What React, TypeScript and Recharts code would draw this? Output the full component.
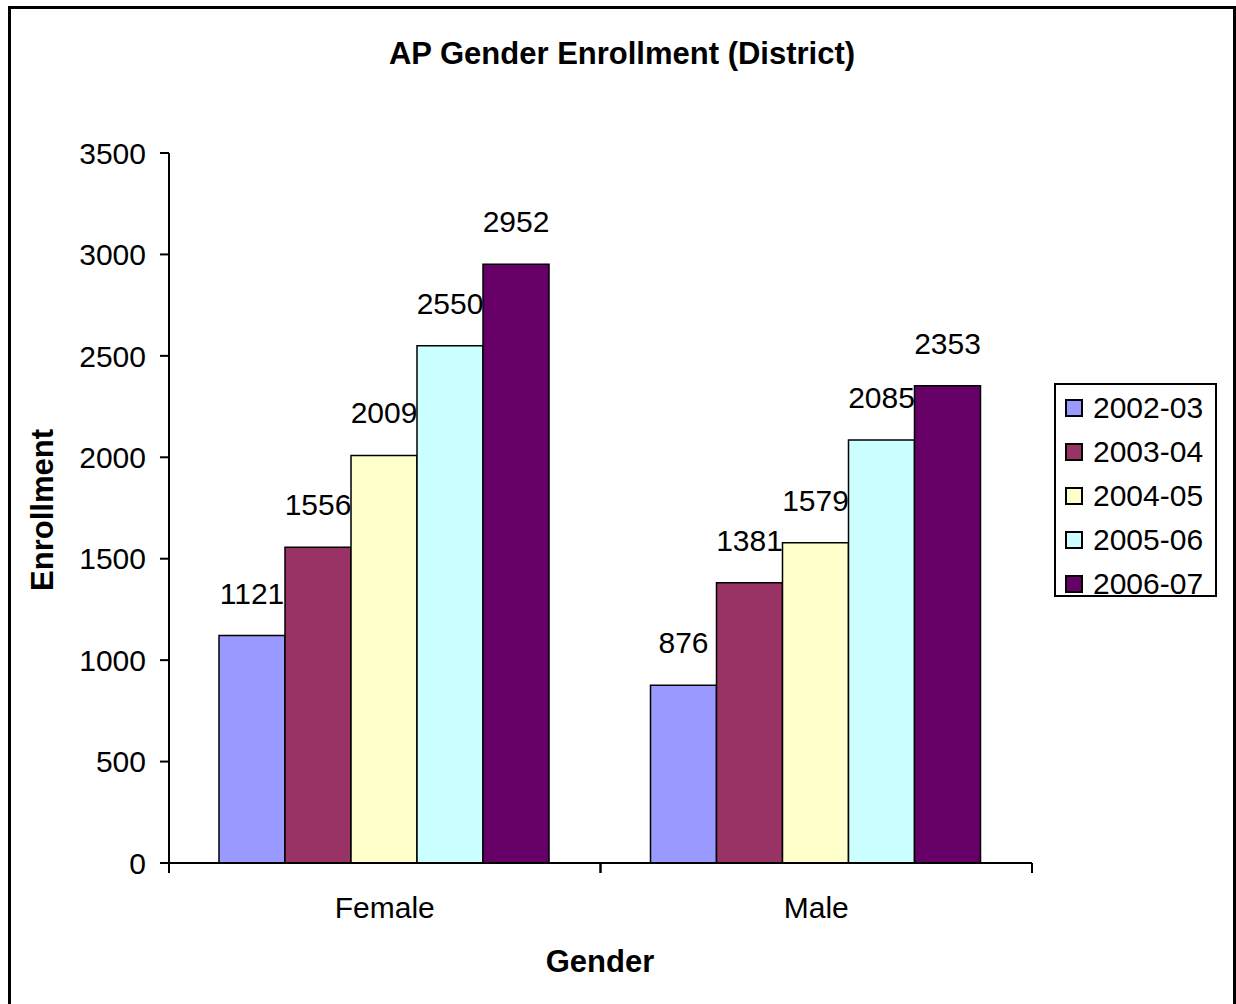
import React from 'react';
import { BarChart, Bar, XAxis, YAxis, Legend, LabelList } from 'recharts';

const categories = ['Female', 'Male'];
const seasons = ['2002-03', '2003-04', '2004-05', '2005-06', '2006-07'];
const enroll0203 = [1121, 876];
const enroll0304 = [1556, 1381];
const enroll0405 = [2009, 1579];
const enroll0506 = [2550, 2085];
const enroll0607 = [2952, 2353];
const yTicks = [0, 500, 1000, 1500, 2000, 2500, 3000, 3500];

const COLORS = ['#9999FF', '#993366', '#FFFFCC', '#CCFFFF', '#660066'];

const seriesValues = [enroll0203, enroll0304, enroll0405, enroll0506, enroll0607];

const chartData = categories.map((gender, i) => {
  const row: Record<string, string | number> = { gender };
  seasons.forEach((s, k) => {
    row[s] = seriesValues[k][i];
  });
  return row;
});

const FONT = 'Arial, "Liberation Sans", Helvetica, sans-serif';

// category name in the middle, tick marks on the band edges (like Excel)
const GenderTick = (props: any) => {
  const { x, y, payload } = props;
  const half = payload.offset || 0;
  return (
    <g>
      <line x1={x - half} x2={x - half} y1={y} y2={y + 10} stroke="#000" strokeWidth={2} />
      <line x1={x + half} x2={x + half} y1={y} y2={y + 10} stroke="#000" strokeWidth={2} />
      <text x={x} y={y + 55} textAnchor="middle" fontSize={30} fill="#000" fontFamily={FONT}>
        {payload.value}
      </text>
    </g>
  );
};

const LegendBox = ({ payload }: any) => (
  <div
    style={{
      boxSizing: 'border-box',
      width: 163,
      height: 214,
      border: '2px solid #000',
      background: '#fff',
      paddingTop: 1,
      paddingLeft: 9,
      fontFamily: FONT,
    }}
  >
    {(payload || []).map((entry: any) => (
      <div key={entry.value} style={{ display: 'flex', alignItems: 'center', height: 44, lineHeight: '44px' }}>
        <span
          style={{
            boxSizing: 'border-box',
            display: 'inline-block',
            width: 18,
            height: 18,
            background: entry.color,
            border: '2px solid #000',
            marginRight: 10,
          }}
        />
        <span style={{ fontSize: 30, color: '#000' }}>{entry.value}</span>
      </div>
    ))}
  </div>
);

const App: React.FC = () => {
  return (
    <div style={{ position: 'absolute', left: 0, top: 0, width: 1236, height: 1004, overflow: 'hidden', fontFamily: FONT, background: '#fff' }}>
      <div
        style={{
          position: 'absolute',
          left: 8,
          top: 6,
          width: 1228,
          height: 1010,
          boxSizing: 'border-box',
          border: '3px solid #000',
        }}
      />
      <div style={{ position: 'absolute', left: 0, top: 0 }}>
        <BarChart
          width={1236}
          height={1004}
          data={chartData}
          margin={{ top: 153, right: 204, bottom: 0, left: 0 }}
          barCategoryGap={50}
          barGap={0}
        >
          <XAxis
            dataKey="gender"
            height={141}
            tickLine={false}
            tickSize={0}
            tickMargin={0}
            axisLine={{ stroke: '#000', strokeWidth: 2 }}
            tick={<GenderTick />}
            interval={0}
          />
          <YAxis
            width={169}
            domain={[0, 3500]}
            ticks={yTicks}
            interval={0}
            tickSize={9}
            tickMargin={14}
            axisLine={{ stroke: '#000', strokeWidth: 2 }}
            tickLine={{ stroke: '#000', strokeWidth: 2 }}
            tick={{ fill: '#000', fontSize: 30, fontFamily: FONT }}
          />
          <Legend
            layout="vertical"
            align="center"
            verticalAlign="middle"
            content={<LegendBox />}
            wrapperStyle={{ left: 1054, top: 383, width: 163, height: 214 }}
          />
          {seasons.map((s, k) => (
            <Bar
              key={s}
              dataKey={s}
              name={s}
              fill={COLORS[k]}
              stroke="#000"
              strokeWidth={1.5}
              isAnimationActive={false}
            >
              <LabelList dataKey={s} position="top" offset={32} fill="#000" fontSize={30} fontFamily={FONT} />
            </Bar>
          ))}
        </BarChart>
      </div>
      <svg width={1236} height={1004} style={{ position: 'absolute', left: 0, top: 0, pointerEvents: 'none' }}>
        <text x={622} y={64} textAnchor="middle" fontSize={31} fontWeight="bold" fontFamily={FONT} fill="#000">
          AP Gender Enrollment (District)
        </text>
        <text x={600} y={972} textAnchor="middle" fontSize={31} fontWeight="bold" fontFamily={FONT} fill="#000">
          Gender
        </text>
        <text
          transform="translate(53,510) rotate(-90)"
          textAnchor="middle"
          fontSize={31}
          fontWeight="bold"
          fontFamily={FONT}
          fill="#000"
        >
          Enrollment
        </text>
      </svg>
    </div>
  );
};

export default App;
